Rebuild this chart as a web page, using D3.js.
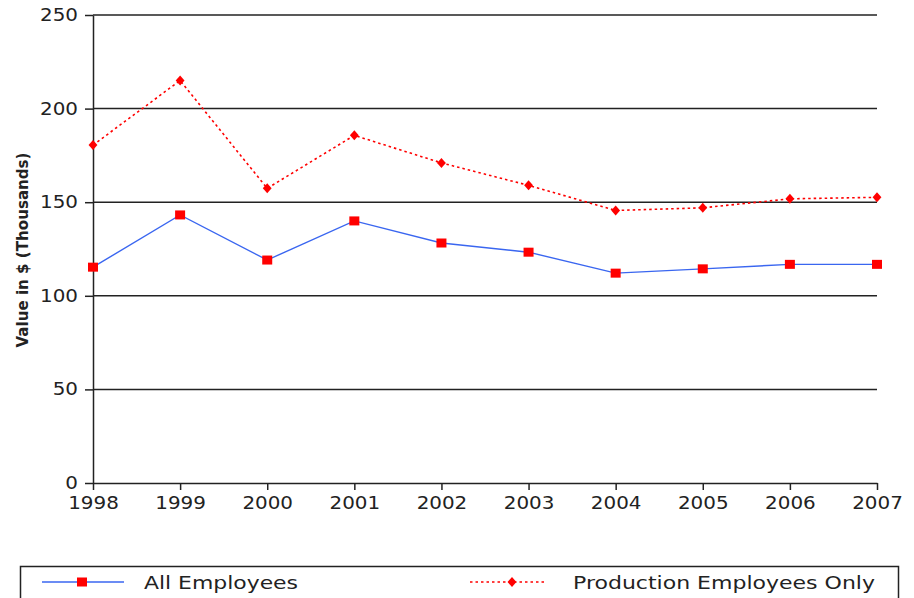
<!DOCTYPE html>
<html>
<head>
<meta charset="utf-8">
<script src="https://cdn.jsdelivr.net/npm/d3@7"></script>
<style>
  html, body { margin: 0; padding: 0; background: #fff; }
  svg { display: block; }
  text { font-family: "DejaVu Sans", Verdana, sans-serif; fill: #222; }
</style>
</head>
<body>
<script>
// Annual values, $ thousands
const years = [1998, 1999, 2000, 2001, 2002, 2003, 2004, 2005, 2006, 2007];
const allEmployees = [115.3, 143.2, 119.1, 140.0, 128.2, 123.3, 112.1, 114.4, 116.8, 116.8];
const productionOnly = [180.5, 215.0, 157.4, 185.7, 171.0, 159.0, 145.6, 147.0, 151.8, 152.6];
const yTicks = [0, 50, 100, 150, 200, 250];
const seriesNames = ["All Employees", "Production Employees Only"];

const W = 914, H = 598;
const plot = { left: 93, right: 877, top: 15, bottom: 483 };
const stretch = 1.17; // wide face: glyphs drawn slightly stretched horizontally

const svg = d3.select("body").append("svg").attr("width", W).attr("height", H);

const x = d3.scaleLinear().domain([d3.min(years), d3.max(years)]).range([plot.left, plot.right]);
const y = d3.scaleLinear().domain([0, 250]).range([plot.bottom, plot.top]);

// horizontal grid
svg.append("g").selectAll("line").data(yTicks.filter(d => d > 0)).join("line")
  .attr("x1", plot.left).attr("x2", plot.right)
  .attr("y1", d => y(d)).attr("y2", d => y(d))
  .attr("stroke", "#222").attr("stroke-width", 1.5);

// y axis
const yAxis = svg.append("g").attr("transform", `translate(${plot.left},0)`)
  .call(d3.axisLeft(y).tickValues(yTicks).tickSize(8).tickPadding(7).tickSizeOuter(0));
yAxis.select(".domain").attr("stroke", "#222").attr("stroke-width", 1.5);
yAxis.selectAll(".tick line").attr("stroke", "#222").attr("stroke-width", 1.5);
yAxis.selectAll("text").attr("font-size", 17)
  .attr("x", -15 / stretch).attr("transform", `scale(${stretch},1)`)
  .attr("fill", "#222").attr("font-family", "DejaVu Sans, sans-serif");

// x axis
const xAxis = svg.append("g").attr("transform", `translate(0,${plot.bottom})`)
  .call(d3.axisBottom(x).tickValues(years).tickFormat(d3.format("d")).tickSize(7).tickPadding(7).tickSizeOuter(0));
xAxis.select(".domain").attr("stroke", "#222").attr("stroke-width", 1.5);
xAxis.selectAll(".tick line").attr("stroke", "#222").attr("stroke-width", 1.5);
xAxis.selectAll("text").attr("font-size", 17).attr("transform", `scale(${stretch},1)`)
  .attr("fill", "#222").attr("font-family", "DejaVu Sans, sans-serif");

// y axis title
svg.append("text")
  .attr("transform", "translate(28,250) rotate(-90)")
  .attr("text-anchor", "middle")
  .attr("font-family", "Liberation Sans Narrow, Liberation Sans, Arial, sans-serif")
  .attr("font-weight", "bold").attr("font-size", 16.5)
  .attr("textLength", 195).attr("lengthAdjust", "spacingAndGlyphs")
  .attr("fill", "#111")
  .text("Value in  $ (Thousands)");

const line = d3.line().x((d, i) => x(years[i])).y(d => y(d));

// Production employees: red dotted with diamonds
svg.append("path").datum(productionOnly)
  .attr("d", line).attr("fill", "none")
  .attr("stroke", "#ff0000").attr("stroke-width", 1.6).attr("stroke-dasharray", "2.5,3");
const diamond = d3.symbol().type(d3.symbolDiamond).size(40);
svg.append("g").selectAll("path").data(productionOnly).join("path")
  .attr("d", diamond)
  .attr("transform", (d, i) => `translate(${x(years[i])},${y(d)}) scale(1.3,0.85)`)
  .attr("fill", "#ff0000");

// All employees: blue solid with squares
svg.append("path").datum(allEmployees)
  .attr("d", line).attr("fill", "none")
  .attr("stroke", "#3a66f0").attr("stroke-width", 1.4);
svg.append("g").selectAll("rect").data(allEmployees).join("rect")
  .attr("x", (d, i) => x(years[i]) - 5).attr("y", d => y(d) - 4.5)
  .attr("width", 10).attr("height", 9).attr("fill", "#ff0000");

// legend
const lg = svg.append("g");
lg.append("rect").attr("x", 20.5).attr("y", 566.5).attr("width", 878).attr("height", 40)
  .attr("fill", "none").attr("stroke", "#222").attr("stroke-width", 1.5);

lg.append("line").attr("x1", 42).attr("x2", 124).attr("y1", 582).attr("y2", 582)
  .attr("stroke", "#3a66f0").attr("stroke-width", 1.4);
lg.append("rect").attr("x", 77).attr("y", 577.5).attr("width", 10).attr("height", 9).attr("fill", "#ff0000");
lg.append("text").attr("x", 144).attr("y", 589)
  .attr("font-size", 17.5).attr("textLength", 154).attr("lengthAdjust", "spacingAndGlyphs")
  .text(seriesNames[0]);

lg.append("line").attr("x1", 470).attr("x2", 547).attr("y1", 582).attr("y2", 582)
  .attr("stroke", "#ff0000").attr("stroke-width", 1.6).attr("stroke-dasharray", "2.5,3");
lg.append("path").attr("d", diamond)
  .attr("transform", "translate(512,582) scale(1.3,0.85)").attr("fill", "#ff0000");
lg.append("text").attr("x", 573).attr("y", 589)
  .attr("font-size", 17.5).attr("textLength", 302).attr("lengthAdjust", "spacingAndGlyphs")
  .text(seriesNames[1]);
</script>
</body>
</html>
